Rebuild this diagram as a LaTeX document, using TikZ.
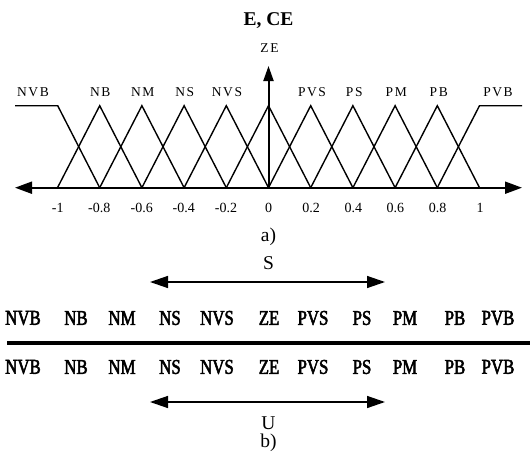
\documentclass[tikz,border=0pt]{standalone}
\usepackage{fontspec}
\setmainfont{Liberation Serif}
\newfontfamily\condfont[FakeStretch=0.8,FakeBold=2.5]{Liberation Serif}
\newfontfamily\spacedfont[LetterSpace=12]{Liberation Serif}
\usetikzlibrary{arrows.meta}
\tikzset{
  axisline/.style={line width=2pt,{Triangle[length=17pt,width=12pt]}-{Triangle[length=17pt,width=12pt]}},
  upaxis/.style={line width=2pt,-{Triangle[length=15pt,width=10pt]}},
  mf/.style={line width=1.4pt,line join=miter},
  rangearrow/.style={line width=1.4pt,{Triangle[length=18pt,width=12pt]}-{Triangle[length=18pt,width=12pt]}},
  sep/.style={line width=4pt},
  mflabel/.style={font=\spacedfont\fontsize{13.5}{13.5}\selectfont,inner sep=0pt},
  ticklabel/.style={font=\fontsize{14}{14}\selectfont,inner sep=0pt},
  condlabel/.style={font=\condfont\fontsize{21}{21}\selectfont,inner sep=0pt},
  caption/.style={font=\fontsize{19.5}{19.5}\selectfont,inner sep=0pt},
}
\begin{document}
\begin{tikzpicture}[x=1pt,y=-1pt]
\useasboundingbox (0,0) rectangle (530,460);
% title
\node[font=\bfseries\fontsize{19.5}{19.5}\selectfont,inner sep=0pt] (title) at (268.5,21) {E, CE};
% axes
\coordinate (xl) at (15,187.7);
\coordinate (xr) at (522,187.7);
\coordinate (o) at (268.5,187.7);
\coordinate (yt) at (268.5,66);
% membership functions
\draw[mf] (15,105.7) -- (57.7,105.7) -- (99.7,187.7);
\foreach \k in {-4,...,4}{
  \draw[mf] (268.5+\k*42.2-42.2,187.7) -- (268.5+\k*42.2,105.7) -- (268.5+\k*42.2+42.2,187.7);
}
\draw[mf] (437.3,187.7) -- (479.5,105.7) -- (522,105.7);
\draw[axisline] (xl) -- (xr);
\draw[upaxis] (o) -- (yt);
\node[mflabel] (zelab) at (269.5,48) {ZE};
% mf labels
\node[mflabel] (l1) at (33,92) {NVB};
\node[mflabel] (l2) at (100.3,92) {NB};
\node[mflabel] (l3) at (142.7,92) {NM};
\node[mflabel] (l4) at (184.7,92) {NS};
\node[mflabel] (l5) at (227,92) {NVS};
\node[mflabel] (l6) at (312,92) {PVS};
\node[mflabel] (l7) at (354.3,92) {PS};
\node[mflabel] (l8) at (396.3,92) {PM};
\node[mflabel] (l9) at (438.7,92) {PB};
\node[mflabel] (l10) at (498,92) {PVB};
% ticks
\node[ticklabel] (t1) at (57.7,208) {-1};
\node[ticklabel] (t2) at (99.3,208) {-0.8};
\node[ticklabel] (t3) at (141.7,208) {-0.6};
\node[ticklabel] (t4) at (183.7,208) {-0.4};
\node[ticklabel] (t5) at (226,208) {-0.2};
\node[ticklabel] (t6) at (268.5,208) {0};
\node[ticklabel] (t7) at (311,208) {0.2};
\node[ticklabel] (t8) at (353.3,208) {0.4};
\node[ticklabel] (t9) at (395.3,208) {0.6};
\node[ticklabel] (t10) at (437.7,208) {0.8};
\node[ticklabel] (t11) at (480,208) {1};
\node[caption] (capa) at (268.5,237) {a)};
% part b
\node[caption] (slab) at (268.5,263) {S};
\coordinate (sl) at (150,282);
\coordinate (sr) at (385,282);
\draw[rangearrow] (sl) -- (sr);
\foreach \t/\x/\n in {NVB/23/a,NB/76/b,NM/122/c,NS/170/d,NVS/217/e,ZE/269/f,PVS/313/g,PS/362/h,PM/405/i,PB/455/j,PVB/498/k}{
  \node[condlabel] (r1\n) at (\x,318) {\t};
  \node[condlabel] (r2\n) at (\x,367) {\t};
}
\coordinate (ml) at (7,343);
\coordinate (mr) at (530,343);
\draw[sep] (ml) -- (mr);
\coordinate (ul) at (150,402);
\coordinate (ur) at (385,402);
\draw[rangearrow] (ul) -- (ur);
\node[caption] (ulab) at (268.5,423) {U};
\node[caption] (capb) at (268.5,443) {b)};
\end{tikzpicture}
\end{document}
